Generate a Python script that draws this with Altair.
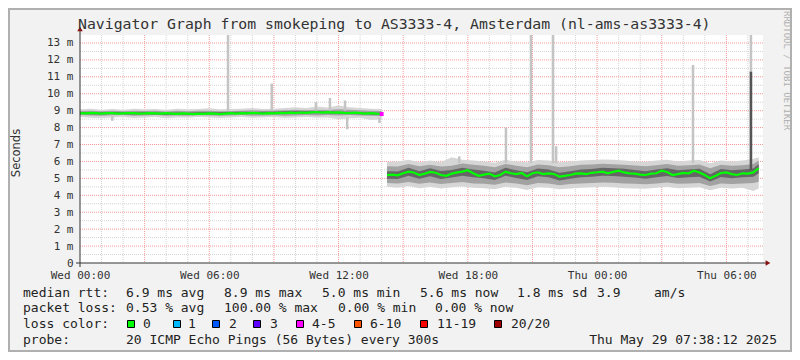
import altair as alt
import pandas as pd

MONO = "DejaVu Sans Mono"
SANS = "DejaVu Sans"
TXT = "#222222"

# ---------------- data (hours after Wed 00:00, values in ms) ----------------
X_MAX = 31.7
Y_MAX = 13.47
SEG_STARTS = [0.0, 14.25]
MED_STEP = 0.25
BAND_STEP = 0.5
SEG2_BAND_END = 31.5

med1 = [8.86, 8.84, 8.87, 8.85, 8.83, 8.86, 8.85, 8.82, 8.84, 8.86,
        8.85, 8.83, 8.84, 8.86, 8.84, 8.82, 8.85, 8.83, 8.81, 8.84,
        8.82, 8.80, 8.83, 8.81, 8.84, 8.82, 8.80, 8.83, 8.85, 8.83,
        8.86, 8.84, 8.87, 8.85, 8.83, 8.86, 8.84, 8.87, 8.85, 8.88,
        8.86, 8.89, 8.87, 8.90, 8.92, 8.89, 8.91, 8.88, 8.90, 8.87,
        8.85, 8.88, 8.86, 8.83, 8.85, 8.82, 8.80]
med2 = [5.20, 5.22, 5.18, 5.30, 5.40, 5.35, 5.20, 5.28, 5.38, 5.33,
        5.20, 5.15, 5.28, 5.35, 5.40, 5.48, 5.30, 5.15, 5.22, 5.28,
        5.12, 5.20, 5.40, 5.30, 5.25, 5.32, 5.12, 5.30, 5.36, 5.25,
        5.30, 5.26, 5.10, 5.15, 5.20, 5.28, 5.30, 5.25, 5.33, 5.36,
        5.40, 5.30, 5.38, 5.45, 5.35, 5.30, 5.28, 5.22, 5.20, 5.28,
        5.30, 5.45, 5.38, 5.20, 5.25, 5.32, 5.30, 5.45, 5.35, 5.20,
        5.00, 5.15, 5.32, 5.35, 5.25, 5.20, 5.30, 5.28, 5.35, 5.60]

# smoke bands, segment 1 (every 30 min from 00:00)
outer_lo1 = [8.62, 8.58, 8.55, 8.60, 8.62, 8.57, 8.60, 8.62, 8.55, 8.60,
             8.58, 8.62, 8.60, 8.56, 8.60, 8.62, 8.58, 8.60, 8.62, 8.57,
             8.60, 8.62, 8.58, 8.60, 8.50, 8.55, 8.58, 8.45, 8.50]
outer_hi1 = [9.08, 9.12, 9.05, 9.10, 9.06, 9.12, 9.08, 9.10, 9.05, 9.12,
             9.08, 9.10, 9.14, 9.08, 9.10, 9.12, 9.15, 9.10, 9.12, 9.16,
             9.20, 9.15, 9.25, 9.18, 9.30, 9.20, 9.15, 9.12, 9.10]
mid_lo1 = [8.74, 8.72, 8.70, 8.73, 8.74, 8.70, 8.72, 8.74, 8.70, 8.72,
           8.70, 8.73, 8.72, 8.70, 8.72, 8.74, 8.70, 8.72, 8.73, 8.70,
           8.72, 8.74, 8.72, 8.74, 8.72, 8.74, 8.72, 8.70, 8.68]
mid_hi1 = [8.98, 9.00, 8.96, 8.99, 8.97, 9.00, 8.98, 8.99, 8.95, 9.00,
           8.97, 8.99, 9.00, 8.97, 8.98, 9.00, 9.02, 9.00, 9.01, 9.03,
           9.05, 9.02, 9.06, 9.04, 9.08, 9.05, 9.02, 9.00, 8.98]
inner_lo1 = [8.80, 8.79, 8.78, 8.80, 8.79, 8.78, 8.79, 8.77, 8.76, 8.77,
             8.76, 8.78, 8.79, 8.79, 8.80, 8.81, 8.80, 8.81, 8.82, 8.84,
             8.84, 8.85, 8.84, 8.84, 8.82, 8.81, 8.79, 8.77, 8.75]
inner_hi1 = [8.92, 8.91, 8.90, 8.92, 8.91, 8.90, 8.91, 8.89, 8.88, 8.89,
             8.88, 8.90, 8.91, 8.91, 8.92, 8.93, 8.92, 8.93, 8.94, 8.96,
             8.96, 8.97, 8.96, 8.96, 8.94, 8.93, 8.91, 8.89, 8.87]

# smoke bands, segment 2 (every 30 min from 14:15, last one at 31.5 h)
outer_lo2 = [4.50, 4.45, 4.55, 4.42, 4.50, 4.40, 4.48, 4.52, 4.45, 4.42,
             4.35, 4.50, 4.45, 4.32, 4.48, 4.45, 4.35, 4.40, 4.45, 4.48,
             4.50, 4.48, 4.42, 4.40, 4.38, 4.45, 4.50, 4.42, 4.45, 4.48,
             4.30, 4.45, 4.40, 4.45, 4.25, 4.40]
outer_hi2 = [5.98, 6.00, 6.10, 5.95, 6.05, 5.95, 6.25, 6.10, 6.05, 6.00,
             5.92, 6.10, 6.00, 5.95, 6.08, 6.05, 5.95, 6.00, 6.05, 6.08,
             6.12, 6.10, 6.05, 6.00, 5.98, 6.05, 6.10, 6.00, 6.05, 6.08,
             5.90, 6.05, 6.00, 6.05, 6.15, 6.25]
mid_lo2 = [4.72, 4.70, 4.78, 4.68, 4.75, 4.66, 4.72, 4.78, 4.70, 4.68,
           4.62, 4.75, 4.70, 4.60, 4.72, 4.70, 4.60, 4.66, 4.70, 4.72,
           4.76, 4.74, 4.70, 4.68, 4.65, 4.70, 4.75, 4.68, 4.70, 4.72,
           4.55, 4.70, 4.66, 4.70, 4.72, 4.80]
mid_hi2 = [5.72, 5.70, 5.85, 5.72, 5.80, 5.70, 5.75, 5.88, 5.80, 5.74,
           5.66, 5.85, 5.75, 5.66, 5.82, 5.78, 5.65, 5.72, 5.80, 5.82,
           5.86, 5.84, 5.80, 5.76, 5.72, 5.78, 5.85, 5.75, 5.78, 5.82,
           5.60, 5.80, 5.75, 5.78, 5.85, 6.05]
inner_lo2 = [4.98, 4.96, 5.15, 4.98, 5.12, 4.97, 5.05, 5.15, 5.06, 5.00,
             4.90, 5.16, 5.02, 4.90, 5.12, 5.06, 4.88, 4.98, 5.06, 5.10,
             5.16, 5.14, 5.10, 5.05, 4.98, 5.06, 5.14, 5.02, 5.07, 5.10,
             4.82, 5.08, 5.00, 5.06, 5.10, 5.30]
inner_hi2 = [5.42, 5.40, 5.62, 5.42, 5.60, 5.43, 5.50, 5.62, 5.52, 5.45,
             5.35, 5.62, 5.48, 5.36, 5.58, 5.52, 5.33, 5.42, 5.52, 5.55,
             5.62, 5.60, 5.57, 5.50, 5.42, 5.52, 5.60, 5.48, 5.52, 5.57,
             5.25, 5.55, 5.48, 5.52, 5.58, 5.85]

# single outlier pings (spikes)
spike_t = [1.5, 6.87, 8.9, 10.95, 11.6, 12.3, 12.4, 13.9,
           17.6, 19.77, 20.93, 21.95, 22.1, 28.45, 31.14]
spike_lo = [8.40, 9.00, 9.00, 9.00, 9.00, 9.00, 7.90, 8.27,
            5.90, 5.90, 5.90, 5.90, 5.90, 5.90, 5.90]
spike_hi = [8.70, 13.47, 10.60, 9.50, 9.75, 9.60, 8.60, 8.60,
            6.30, 8.00, 13.47, 13.47, 6.90, 11.70, 13.47]
dark_spike_t = [31.14]
dark_spike_lo = [5.50]
dark_spike_hi = [11.30]

# samples with packet loss
loss_t = [14.0]
loss_v = [8.80]
loss_cat = ["4-5"]

loss_labels = ["0", "1", "2", "3", "4-5", "6-10", "11-19", "20/20"]
loss_colors = ["#00ff00", "#00b8ff", "#0059ff", "#5e00ff",
               "#ff00ff", "#ff5500", "#ff0000", "#a10000"]

# ---------------- tables ----------------
def times(start, n, step):
    return [start + step * i for i in range(n)]

med_rows = []
for seg, (start, vals) in enumerate(zip(SEG_STARTS, [med1, med2])):
    for t, v in zip(times(start, len(vals), MED_STEP), vals):
        med_rows.append({"t": t, "v": v, "seg": seg})
med_df = pd.DataFrame(med_rows)

band_t1 = times(SEG_STARTS[0], len(outer_lo1), BAND_STEP)
band_t2 = times(SEG_STARTS[1], len(outer_lo2) - 1, BAND_STEP) + [SEG2_BAND_END]

def band_df(lo1, hi1, lo2, hi2):
    rows = []
    for t, lo, hi in zip(band_t1, lo1, hi1):
        rows.append({"t": t, "lo": lo, "hi": hi, "seg": 0})
    for t, lo, hi in zip(band_t2, lo2, hi2):
        rows.append({"t": t, "lo": lo, "hi": hi, "seg": 1})
    return pd.DataFrame(rows)

outer_df = band_df(outer_lo1, outer_hi1, outer_lo2, outer_hi2)
mid_df = band_df(mid_lo1, mid_hi1, mid_lo2, mid_hi2)
inner_df = band_df(inner_lo1, inner_hi1, inner_lo2, inner_hi2)
spike_df = pd.DataFrame({"t": spike_t, "lo": spike_lo, "hi": spike_hi})
dark_df = pd.DataFrame({"t": dark_spike_t, "lo": dark_spike_lo, "hi": dark_spike_hi})
loss_df = pd.DataFrame({"t": loss_t, "v": loss_v, "cat": loss_cat})

vgrid_minor = pd.DataFrame({"g": [h for h in range(1, 32) if h % 3 != 0]})
vgrid_major = pd.DataFrame({"g": [h for h in range(3, 32, 3)]})
hgrid_minor = pd.DataFrame({"g": [i + 0.5 for i in range(13)]})
hgrid_major = pd.DataFrame({"g": [i for i in range(1, 14)]})
one = pd.DataFrame({"k": [0]})

# ---------------- scales / axes ----------------
XS = alt.Scale(domain=[0, X_MAX], nice=False, zero=False)
YS = alt.Scale(domain=[0, Y_MAX], nice=False, zero=False)
X_AX = alt.Axis(values=[0, 6, 12, 18, 24, 30], title=None, domain=False, ticks=False,
                grid=False, labelFont=MONO, labelFontSize=11, labelColor="#333333",
                labelPadding=6, labelFlush=False, labelOverlap=False,
                labelExpr="(datum.value < 24 ? 'Wed ' : 'Thu ') + "
                          "(datum.value % 24 < 10 ? '0' : '') + (datum.value % 24) + ':00'")
Y_AX = alt.Axis(values=list(range(14)), title=None, domain=False, ticks=False, grid=False,
                labelFont=MONO, labelFontSize=11, labelColor="#333333", labelPadding=7,
                labelExpr="datum.value == 0 ? '0\u00a0\u00a0' : datum.value + ' m'")

def X(f):
    return alt.X(f, type="quantitative", scale=XS, axis=X_AX)

def Y(f):
    return alt.Y(f, type="quantitative", scale=YS, axis=Y_AX)

layers = []

# grid
layers.append(alt.Chart(vgrid_minor).mark_rule(color="#d4d4d4", strokeDash=[1, 1], strokeWidth=1)
              .encode(x=X("g")))
layers.append(alt.Chart(hgrid_minor).mark_rule(color="#d4d4d4", strokeDash=[1, 1], strokeWidth=1)
              .encode(y=Y("g")))
layers.append(alt.Chart(vgrid_major).mark_rule(color="#f49a9a", strokeDash=[1, 1], strokeWidth=1)
              .encode(x=X("g")))
layers.append(alt.Chart(hgrid_major).mark_rule(color="#f49a9a", strokeDash=[1, 1], strokeWidth=1)
              .encode(y=Y("g")))

# smoke
for df, col in [(outer_df, "#d6d6d6"), (mid_df, "#a2a2a2"), (inner_df, "#666666")]:
    layers.append(alt.Chart(df).mark_area(color=col, opacity=1)
                  .encode(x=X("t"), y=Y("lo"), y2="hi", detail="seg:N"))

layers.append(alt.Chart(spike_df).mark_rule(color="#c4c4c4", strokeWidth=2.5)
              .encode(x=X("t"), y=Y("lo"), y2="hi"))
layers.append(alt.Chart(dark_df).mark_rule(color="#555555", strokeWidth=2.5)
              .encode(x=X("t"), y=Y("lo"), y2="hi"))

# median
layers.append(alt.Chart(med_df).mark_line(color="#00ff00", strokeWidth=2.2)
              .encode(x=X("t"), y=Y("v"), detail="seg:N"))
layers.append(alt.Chart(loss_df).mark_square(size=16, opacity=1)
              .encode(x=X("t"), y=Y("v"),
                      color=alt.Color("cat:N", scale=alt.Scale(domain=loss_labels, range=loss_colors),
                                      legend=None)))

# ---------------- decorations (pixel layout) ----------------
def txt(s, x, y, size=13, align="left", color=TXT, font=MONO, angle=None, baseline="middle"):
    kw = dict(align=align, baseline=baseline, font=font, fontSize=size, color=color)
    if angle is not None:
        kw["angle"] = angle
    return alt.Chart(one).mark_text(**kw).encode(x=alt.value(x), y=alt.value(y), text=alt.value(s))

# frame
layers.append(alt.Chart(one).mark_rect(fillOpacity=0, stroke="#b0b0b0", strokeWidth=2)
              .encode(x=alt.value(-71), x2=alt.value(711), y=alt.value(-26), y2=alt.value(316)))

# axis lines + arrows
layers.append(alt.Chart(one).mark_rule(color="#333333", strokeWidth=1)
              .encode(x=alt.value(-4), x2=alt.value(686), y=alt.value(228)))
layers.append(alt.Chart(one).mark_rule(color="#333333", strokeWidth=1)
              .encode(x=alt.value(0), y=alt.value(-4), y2=alt.value(232)))
layers.append(alt.Chart(one).mark_point(shape="triangle-right", filled=True, size=30,
                                        color="#8b1010", opacity=1)
              .encode(x=alt.value(688), y=alt.value(228)))
layers.append(alt.Chart(one).mark_point(shape="triangle-up", filled=True, size=30,
                                        color="#8b1010", opacity=1)
              .encode(x=alt.value(0), y=alt.value(-6)))

# titles
layers.append(txt("Navigator Graph from smokeping to AS3333-4, Amsterdam (nl-ams-as3333-4)",
                  -2, -10, size=14.8, color="#333333"))
layers.append(txt("Seconds", -63, 118, size=11.5, font=SANS, angle=270, align="center",
                  color="#333333"))
layers.append(txt("RRDTOOL / TOBI OETIKER", 707, -24, size=9, angle=90, color="#b0b0b0"))

# legend lines
L1, L2, L3, L4 = 258, 273, 289, 305
for s, x in [("median rtt:", -57), ("6.9 ms avg", 46), ("8.9 ms max", 144),
             ("5.0 ms min", 242), ("5.6 ms now", 340), ("1.8 ms sd", 437),
             ("3.9", 517), ("am/s", 574)]:
    layers.append(txt(s, x, L1))
for s, x in [("packet loss:", -57), ("0.53 % avg", 46), ("100.00 % max", 144),
             ("0.00 % min", 258), ("0.00 % now", 355)]:
    layers.append(txt(s, x, L2))
layers.append(txt("loss color:", -57, L3))
box_x = [51, 97, 136, 177, 220, 278, 344, 418]
lab_x = [63, 108, 149, 190, 232, 290, 357, 431]
for lab, colr, bx, lx in zip(loss_labels, loss_colors, box_x, lab_x):
    layers.append(alt.Chart(one).mark_square(size=49, color=colr, opacity=1,
                                             stroke="#000000", strokeWidth=1)
                  .encode(x=alt.value(bx), y=alt.value(L3)))
    layers.append(txt(lab, lx, L3))
layers.append(txt("probe:", -57, L4))
layers.append(txt("20 ICMP Echo Pings (56 Bytes) every 300s", 46, L4))
layers.append(txt("Thu May 29 07:38:12 2025", 697, L4, align="right"))

chart = alt.layer(*layers).properties(
    width=683, height=228,
    autosize=alt.AutoSizeParams(type="none"),
    padding={"left": 72, "top": 27, "right": 29, "bottom": 89},
).configure(background="#f2f2f2").configure_view(fill="white", stroke=None)

chart.save("out.html", embed_options={"renderer": "svg", "actions": False})
